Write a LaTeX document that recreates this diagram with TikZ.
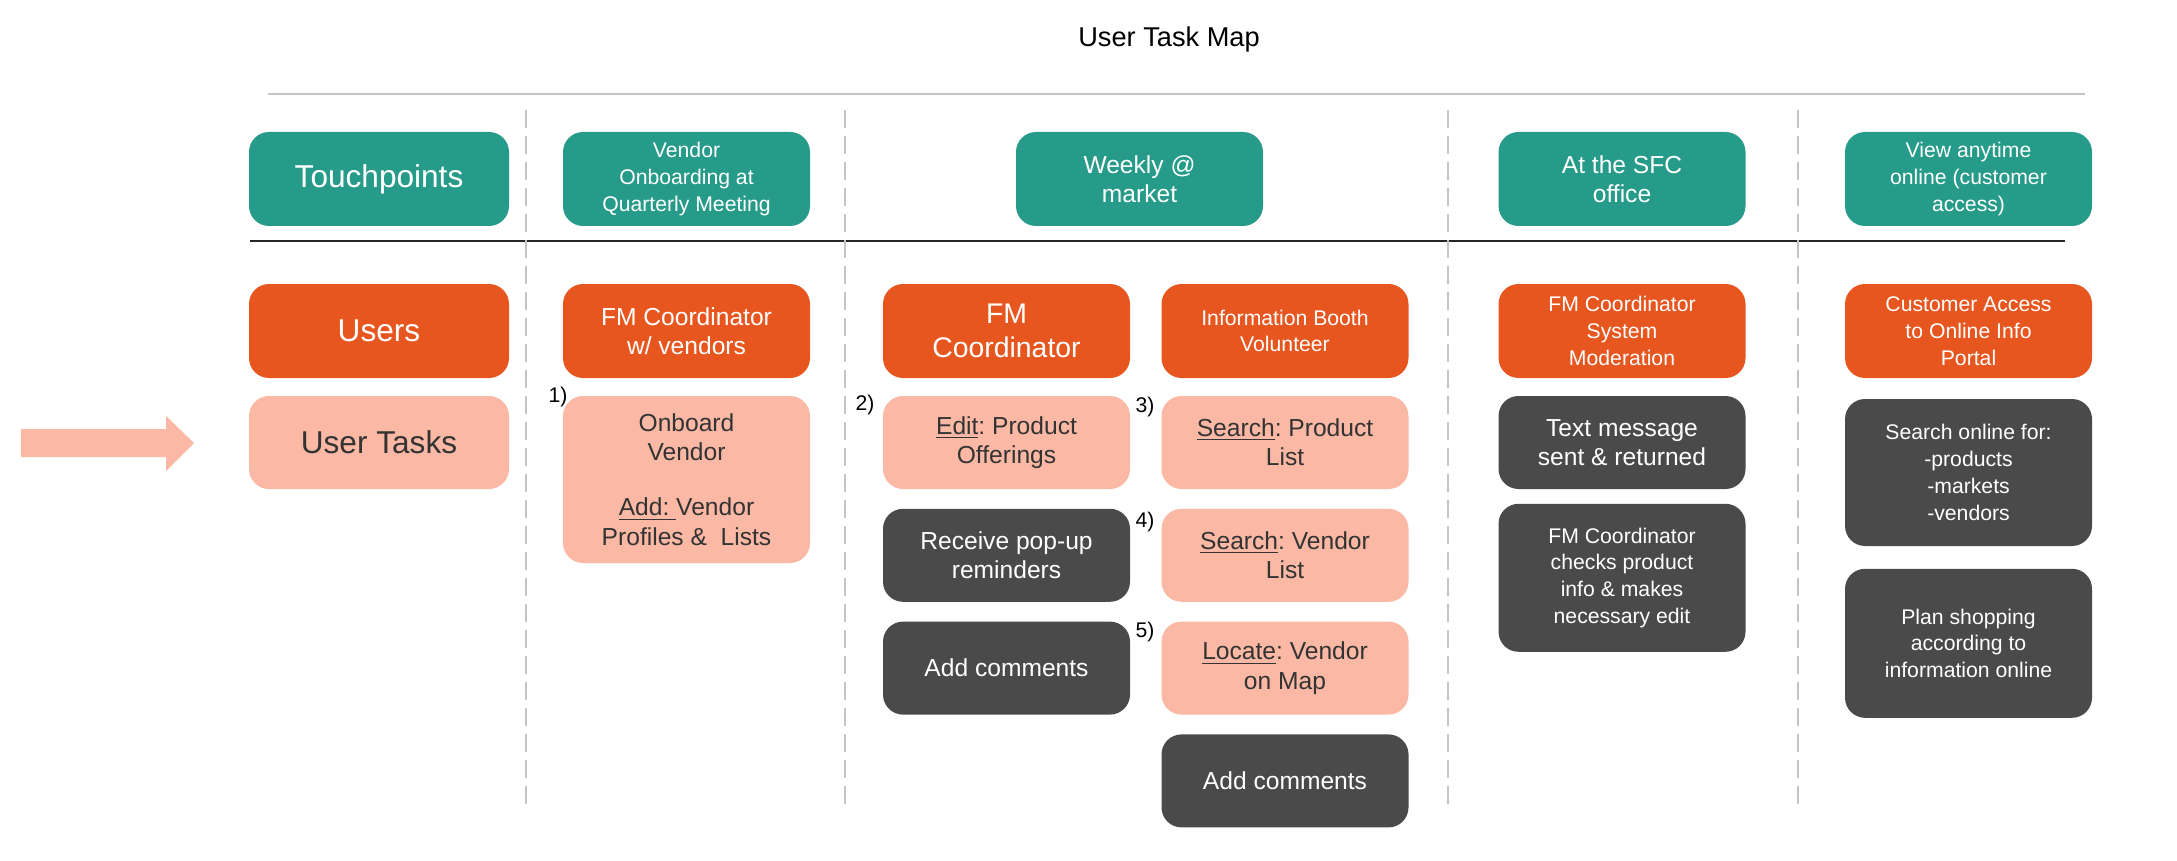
\documentclass[tikz,border=0pt]{standalone}
\usepackage{fontspec}
\setmainfont{Liberation Sans}
\usetikzlibrary{positioning}
\frenchspacing
\definecolor{tmteal}{HTML}{279B89}
\definecolor{tmorange}{HTML}{E8561F}
\definecolor{tmsalmon}{HTML}{FBB8A4}
\definecolor{tmdark}{HTML}{4A4A4A}
\definecolor{tmtext}{HTML}{333333}
\definecolor{tmgray}{HTML}{C4C4C4}
\newcommand{\tmbig}{\fontsize{15.8pt}{19pt}\selectfont}
\newcommand{\tmmid}{\fontsize{12.3pt}{14.6pt}\selectfont}
\newcommand{\tmsmall}{\fontsize{10.6pt}{13.4pt}\selectfont}
\tikzset{
    tmbox/.style={rectangle, rounded corners=10pt,
        fill=#1, text=white,
        minimum width=123.5pt, minimum height=46.5pt,
        align=center, inner sep=2pt, font=\tmmid},
    tmhead/.style={tmbox=#1, minimum width=130pt, font=\tmbig},
    tmtask/.style={tmbox=tmsalmon, text=tmtext},
    tmnum/.style={font=\tmsmall, inner sep=0pt},
    tmsep/.style={tmgray, line width=1pt, dash pattern=on 9pt off 4pt},
}

\begin{document}
\begin{tikzpicture}[x=0.5pt, y=-0.5pt]

    \useasboundingbox (0,0) rectangle (2177,861);

    % ── Title and rules ─────────────────────────────────────────────────────
    \node[font={\fontsize{13.6pt}{16pt}\selectfont}] (title) at (1169,39) {User Task Map};
    \draw[tmgray, line width=1.4pt] (268,94) -- (2085,94);
    \draw[black!85, line width=1.1pt] (250,241) -- (2065,241);

    % ── Column separators ───────────────────────────────────────────────────
    \foreach \sx in {526,845,1448,1798}
        \draw[tmsep] (\sx,110) -- (\sx,810);

    % ── Touchpoints ─────────────────────────────────────────────────────────
    \node[tmhead=tmteal, minimum height=47pt] (touch) at (379,179) {Touchpoints};
    \node[tmbox=tmteal, minimum height=47pt, font=\tmsmall] (tpvendor) at (686.5,179)
        {Vendor\\Onboarding at\\Quarterly Meeting};
    \node[tmbox=tmteal, minimum height=47pt] (tpweekly) at (1139.5,179) {Weekly @\\market};
    \node[tmbox=tmteal, minimum height=47pt] (tpoffice) at (1622,179) {At the SFC\\office};
    \node[tmbox=tmteal, minimum height=47pt, font=\tmsmall] (tponline) at (1968.5,179)
        {View anytime\\online (customer\\access)};

    % ── Users ───────────────────────────────────────────────────────────────
    \node[tmhead=tmorange, minimum height=47pt] (users) at (379,331) {Users};
    \node[tmbox=tmorange, minimum height=47pt] (usvendor) at (686.5,331)
        {FM Coordinator\\w/ vendors};
    \node[tmbox=tmorange, minimum height=47pt, font={\fontsize{14.2pt}{17pt}\selectfont}]
        (uscoord) at (1006.5,331) {FM\\Coordinator};
    \node[tmbox=tmorange, minimum height=47pt, font=\tmsmall] (usbooth) at (1285,331)
        {Information Booth\\Volunteer};
    \node[tmbox=tmorange, minimum height=47pt, font=\tmsmall] (usoffice) at (1622,331)
        {FM Coordinator\\System\\Moderation};
    \node[tmbox=tmorange, minimum height=47pt, font=\tmsmall] (usonline) at (1968.5,331)
        {Customer Access\\to Online Info\\Portal};

    % ── User tasks ──────────────────────────────────────────────────────────
    \node[tmhead=tmsalmon, text=tmtext] (tasks) at (379,442.5) {User Tasks};
    \fill[tmsalmon] (21,429) -- (166,429) -- (166,416) -- (194,443)
        -- (166,471) -- (166,457) -- (21,457) -- cycle;

    \node[tmtask, minimum height=83.5pt] (onboard) at (686.5,479.5)
        {Onboard\\Vendor\\[13pt]\underline{Add:\ }Vendor\\Profiles \&\ \ Lists};

    \node[tmtask] (edit) at (1006.5,442.5) {\underline{Edit}: Product\\Offerings};
    \node[tmbox=tmdark, below=9.5pt of edit] (popup) {Receive pop-up\\reminders};
    \node[tmbox=tmdark, below=9.5pt of popup] (comment1) {Add comments};

    \node[tmtask] (srchprod) at (1285,442.5) {\underline{Search}: Product\\List};
    \node[tmtask, below=9.5pt of srchprod] (srchvend) {\underline{Search}: Vendor\\List};
    \node[tmtask, below=9.5pt of srchvend] (locate) {\underline{Locate}: Vendor\\on Map};
    \node[tmbox=tmdark, below=9.5pt of locate] (comment2) {Add comments};

    \node[tmbox=tmdark] (textmsg) at (1622,442.5) {Text message\\sent \& returned};
    \node[tmbox=tmdark, font=\tmsmall, minimum height=74pt, below=7pt of textmsg]
        (checks) {FM Coordinator\\checks product\\info \& makes\\necessary edit};

    \node[tmbox=tmdark, font=\tmsmall, minimum height=73.5pt] (srchonline)
        at (1968.5,472.5) {Search online for:\\-products\\-markets\\-vendors};
    \node[tmbox=tmdark, font=\tmsmall, minimum height=74.5pt, below=11pt of srchonline]
        (plan) {Plan shopping\\according to\\information online};

    % ── Step numbers ────────────────────────────────────────────────────────
    \node[tmnum] (num1) at (558,397) {1)};
    \node[tmnum] (num2) at (865,405) {2)};
    \node[tmnum] (num3) at (1145,407) {3)};
    \node[tmnum] (num4) at (1145,522) {4)};
    \node[tmnum] (num5) at (1145,632) {5)};

\end{tikzpicture}
\end{document}
